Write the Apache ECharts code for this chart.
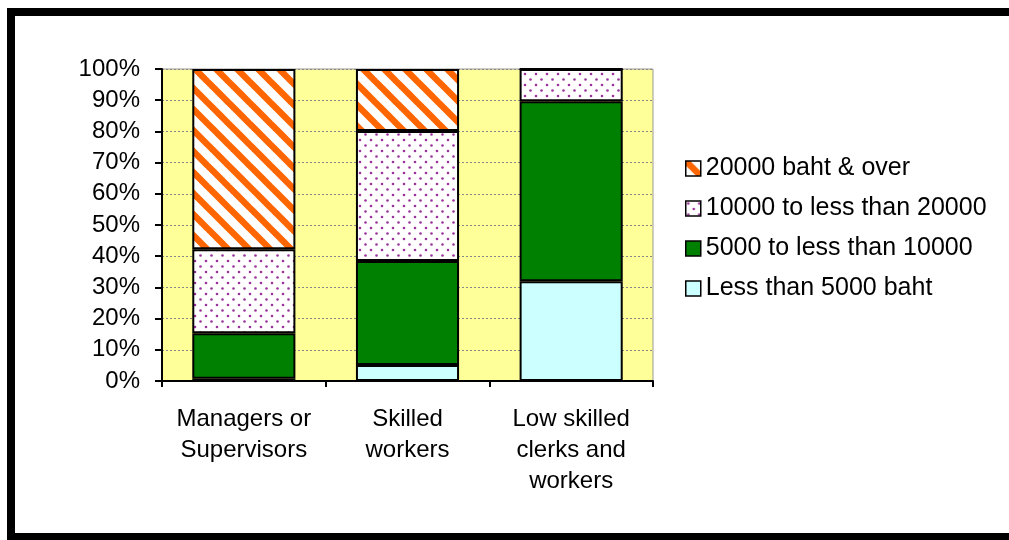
<!DOCTYPE html>
<html>
<head>
<meta charset="utf-8">
<script src="https://cdn.jsdelivr.net/npm/echarts@6/dist/echarts.min.js"></script>
<style>
html,body{margin:0;padding:0;background:#fff;}
#chart{width:1009px;height:540px;}
</style>
</head>
<body>
<div id="chart"></div>
<script>
// ---- data ----
var categories = ['Managers or\nSupervisors', 'Skilled\nworkers', 'Low skilled\nclerks and\nworkers'];
var seriesNames = ['Less than 5000 baht', '5000 to less than 10000', '10000 to less than 20000', '20000 baht & over'];
var lessThan5000 = [0.7, 5.1, 32];
var from5000To10000 = [14.6, 33.4, 57.7];
var from10000To20000 = [26.9, 41.6, 10.3];
var over20000 = [57.8, 19.9, 0];
var yTicks = [0, 10, 20, 30, 40, 50, 60, 70, 80, 90, 100];

// ---- patterns ----
function stripePattern() {
  var s = 21;
  var c = document.createElement('canvas');
  c.width = s; c.height = s;
  var ctx = c.getContext('2d');
  ctx.fillStyle = '#ffffff';
  ctx.fillRect(0, 0, s, s);
  ctx.strokeStyle = '#FF6600';
  ctx.lineWidth = 6.5;
  for (var k = -s; k <= s; k += s) {
    ctx.beginPath();
    ctx.moveTo(k - 2, -2);
    ctx.lineTo(k + s + 2, s + 2);
    ctx.stroke();
  }
  return c;
}
function dotPattern() {
  var s = 11;
  var c = document.createElement('canvas');
  c.width = s; c.height = s;
  var ctx = c.getContext('2d');
  ctx.fillStyle = '#ffffff';
  ctx.fillRect(0, 0, s, s);
  ctx.fillStyle = '#993399';
  var pts = [[2.5, 2.5], [8, 8]];
  pts.forEach(function (p) {
    ctx.beginPath();
    ctx.arc(p[0], p[1], 1.3, 0, Math.PI * 2);
    ctx.fill();
  });
  return c;
}

var chart = echarts.init(document.getElementById('chart'), null, {renderer: 'canvas'});
var font = 'Liberation Sans, Arial, sans-serif';
var fs = 24;

function barSeries(name, data, color) {
  return {
    name: name,
    type: 'bar',
    stack: 'total',
    data: data,
    barWidth: '63%',
    itemStyle: { color: color, borderColor: '#000', borderWidth: 2 },
    emphasis: { disabled: true }
  };
}

var option = {
  backgroundColor: '#ffffff',
  animation: false,
  textStyle: { fontFamily: font },
  grid: {
    left: 162, right: 356, top: 69, bottom: 159,
    show: true, backgroundColor: '#FFFF99', borderColor: '#999999', borderWidth: 1
  },
  legend: {
    orient: 'vertical',
    left: 680,
    top: 151,
    icon: 'rect',
    itemWidth: 15,
    itemHeight: 15,
    itemGap: 15,
    data: seriesNames.slice().reverse(),
    textStyle: { fontFamily: font, fontSize: 25, color: '#000' },
    itemStyle: { borderColor: '#000', borderWidth: 1.5 }
  },
  xAxis: {
    type: 'category',
    data: categories,
    boundaryGap: true,
    axisLine: { lineStyle: { color: '#000', width: 2 } },
    axisTick: { show: true, length: 6, alignWithLabel: false, lineStyle: { color: '#000', width: 2 } },
    axisLabel: { color: '#000', fontFamily: font, fontSize: fs, lineHeight: 31, margin: 23, interval: 0 },
    splitLine: { show: false }
  },
  yAxis: {
    type: 'value',
    min: yTicks[0],
    max: yTicks[yTicks.length - 1],
    interval: yTicks[1] - yTicks[0],
    axisLine: { show: true, lineStyle: { color: '#000', width: 2 } },
    axisTick: { show: true, length: 7, lineStyle: { color: '#000', width: 2 } },
    axisLabel: { color: '#000', fontFamily: font, fontSize: fs, margin: 22, formatter: '{value}%' },
    splitLine: { show: true, lineStyle: { color: '#888888', width: 1, type: [2, 2] } }
  },
  graphic: [
    { type: 'rect', shape: { x: 7, y: 8, width: 1002, height: 8 }, style: { fill: '#000' }, silent: true },
    { type: 'rect', shape: { x: 7, y: 8, width: 8, height: 532 }, style: { fill: '#000' }, silent: true },
    { type: 'rect', shape: { x: 7, y: 533, width: 1002, height: 7 }, style: { fill: '#000' }, silent: true }
  ],
  series: [
    barSeries(seriesNames[0], lessThan5000, '#CCFFFF'),
    barSeries(seriesNames[1], from5000To10000, '#008000'),
    barSeries(seriesNames[2], from10000To20000, { image: dotPattern(), repeat: 'repeat' }),
    barSeries(seriesNames[3], over20000, { image: stripePattern(), repeat: 'repeat' })
  ]
};
chart.setOption(option);
</script>
</body>
</html>
